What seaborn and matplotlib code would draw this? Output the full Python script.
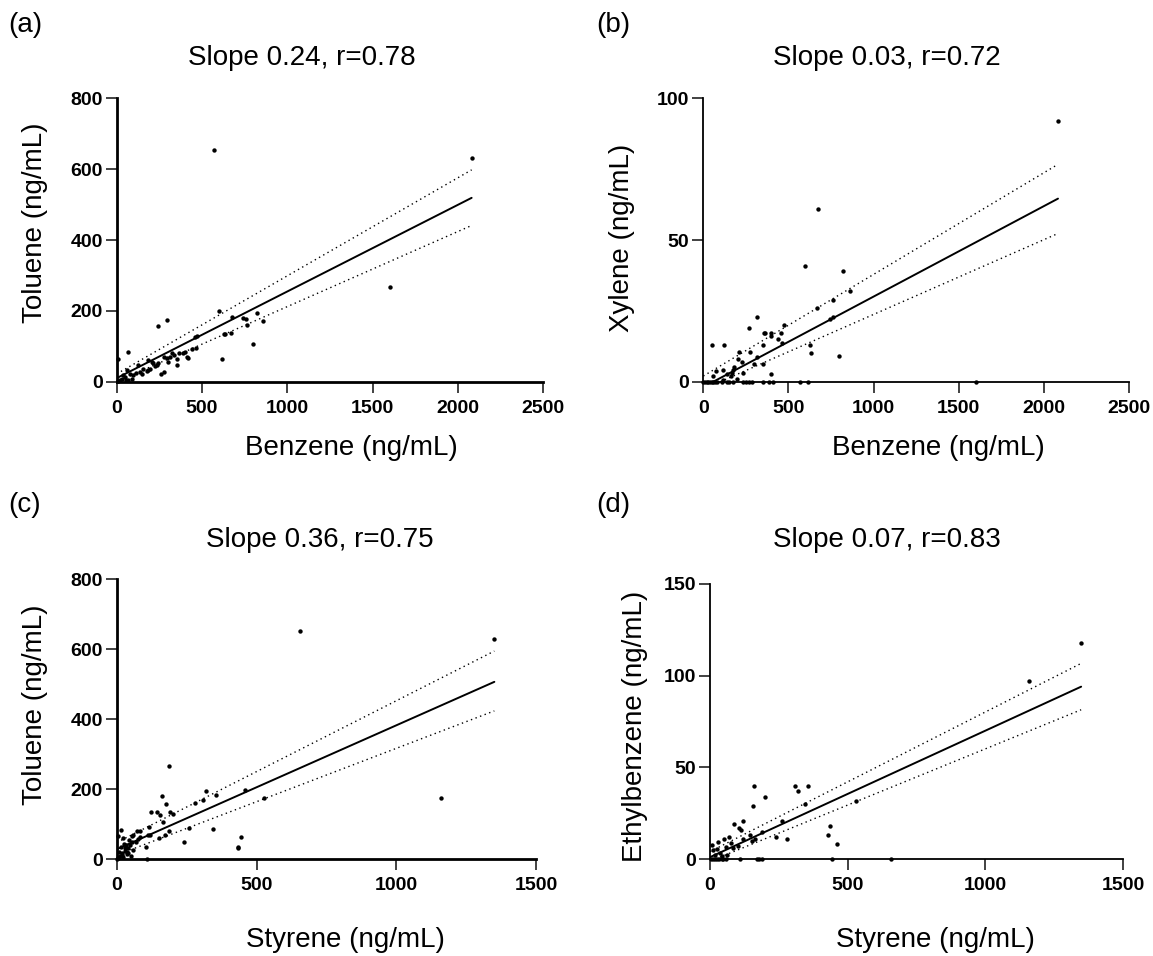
import numpy as np
import pandas as pd
import matplotlib.pyplot as plt
import seaborn as sns

# (a) benzene vs toluene
a_x = [572, 2080, 1600, 600, 293, 244, 674, 742, 757, 822, 765, 859, 799, 629, 635,
       670, 619, 469, 459, 465, 439, 410, 400, 387, 367, 352, 354, 322, 312, 303,
       277, 277, 260, 234, 215, 205, 182, 186, 156, 127, 137, 113, 98, 66, 10,
       59, 78, 49, 29, 20, 68, 88, 39, 55, 10, 146, 176, 195, 225, 244, 293, 336, 416]
a_y = [653, 631, 268, 200, 174, 158, 184, 181, 176, 195, 160, 171, 106, 134, 134,
       137, 64, 129, 127, 94, 93, 69, 85, 82, 80, 63, 47, 80, 70, 56,
       70, 28, 23, 47, 52, 56, 61, 33, 35, 47, 28, 25, 19, 83, 64,
       33, 23, 14, 9, 5, 5, 8, 19, 5, 2, 23, 31, 35, 44, 52, 66, 75, 66]

# (b) benzene vs xylene
b_x = [2083, 671, 596, 818, 861, 763, 669, 759, 745, 314, 269, 471, 357, 365, 398,
       398, 459, 437, 461, 349, 624, 631, 798, 49, 120, 212, 277, 206, 229, 314,
       300, 349, 398, 235, 182, 176, 167, 137, 161, 114, 73, 59, 200, 118,
       0, 10, 20, 29, 39, 49, 59, 69, 78, 112, 141, 153, 173, 235, 249, 269,
       286, 349, 384, 412, 569, 616, 1600]
b_y = [92.1, 61, 41, 39, 32, 29, 26.1, 22.9, 22.1, 22.9, 19.1, 20, 17.1, 17.1, 17.1,
       16.1, 17.1, 14.9, 13.5, 12.9, 12.9, 10, 9.2, 12.9, 12.9, 10.6, 10.6, 7.9, 7.1, 8.8,
       6.1, 6.1, 2.8, 2.9, 5.3, 4.1, 3.2, 2.7, 2.0, 4.1, 3.8, 2.1, 0.9, 0.6,
       0, 0, 0, 0, 0, 0, 0, 0, 0, 0, 0, 0, 0, 0, 0, 0,
       0, 0, 0, 0, 0, 0, 0]

# (c) styrene vs toluene
c_x = [657, 1350, 1160, 188, 460, 528, 355, 321, 309, 279, 161, 178, 122, 144, 155,
       191, 201, 166, 346, 260, 242, 432, 435, 444, 117, 119, 152, 171, 186, 103,
       109, 16, 6, 24, 54, 60, 72, 84, 75, 84, 69, 56, 48, 33, 30,
       42, 36, 18, 12, 50, 6, 24, 113, 60, 45, 10, 20, 28, 38, 15, 2, 8, 26, 40]
c_y = [651, 630, 174, 268, 199, 175, 185, 195, 170, 161, 180, 159, 134, 135, 126,
       136, 129, 106, 88, 89, 49, 34, 32, 63, 91, 69, 60, 70, 80, 35,
       0, 84, 67, 60, 67, 69, 82, 82, 57, 65, 50, 50, 41, 41, 31,
       31, 22, 17, 10, 10, 3, 6, 70, 27, 55, 20, 12, 25, 15, 35, 2, 8, 45, 18]

# (d) styrene vs ethylbenzene
d_x = [1348, 1159, 161, 309, 355, 321, 201, 155, 345, 529, 121, 86, 260, 107, 113,
       188, 145, 240, 279, 162, 151, 119, 436, 430, 461, 69, 52, 75, 58, 103,
       82, 30, 6, 12, 27, 36, 42, 61, 18,
       2, 10, 18, 24, 34, 42, 48, 58, 109, 170, 178, 188, 444, 658]
d_y = [118, 96.9, 40, 40, 40, 37.1, 34, 28.9, 30, 31.8, 20.9, 18.9, 20.9, 17.1, 15.8,
       14.9, 12.9, 12.2, 10.9, 10.9, 10, 10.7, 18, 12.9, 8, 12.2, 10.9, 8.9, 6.7, 7.1,
       5.8, 9.5, 7.6, 4.9, 5.3, 3.1, 1.6, 2.2, 2.2,
       0, 0, 0, 0, 0, 0, 0, 0, 0, 0, 0, 0, 0, 0]

# fitted line and 95% band ends
a_fit = ([0, 2080], [10, 519]); a_up = ([0, 2080], [22, 598]); a_lo = ([0, 2080], [0, 441])
b_fit = ([59, 2083], [0, 64.6]); b_up = ([0, 2083], [2, 76.7]); b_lo = ([100, 2083], [0, 52.3])
c_fit = ([0, 1350], [28.6, 507]); c_up = ([0, 1350], [48, 595]); c_lo = ([0, 1350], [12, 424])
d_fit = ([0, 1348], [1, 94]); d_up = ([0, 1348], [4, 106.7]); d_lo = ([20, 1348], [0, 81.4])

titles = ['Slope 0.24, r=0.78', 'Slope 0.03, r=0.72', 'Slope 0.36, r=0.75', 'Slope 0.07, r=0.83']
xlabels = ['Benzene (ng/mL)', 'Benzene (ng/mL)', 'Styrene (ng/mL)', 'Styrene (ng/mL)']
ylabels = ['Toluene (ng/mL)', 'Xylene (ng/mL)', 'Toluene (ng/mL)', 'Ethylbenzene (ng/mL)']
tags = ['(a)', '(b)', '(c)', '(d)']

sns.set_style('ticks')
plt.rcParams['font.family'] = ['Liberation Sans', 'DejaVu Sans']
plt.rcParams['text.color'] = 'black'
plt.rcParams['xtick.labelcolor'] = 'black'
plt.rcParams['ytick.labelcolor'] = 'black'

W, H = 1153, 956
fig = plt.figure(figsize=(W / 100, H / 100), dpi=100)


def px_axes(l, t, r, b):
    return fig.add_axes([l / W, 1 - b / H, (r - l) / W, (b - t) / H])


def px_text(x, y, s, **kw):
    fig.text(x / W, 1 - y / H, s, fontsize=20, color='black', **kw)


panels = [
    dict(rect=(116.7, 98.3, 543.3, 381.7), x=a_x, y=a_y, fit=a_fit, up=a_up, lo=a_lo,
         xt=[0, 500, 1000, 1500, 2000, 2500], yt=[0, 200, 400, 600, 800], lw=2.0,
         title=(302, 58), tag=(8, 25), xl=(351, 448), yl=(35, 223)),
    dict(rect=(703.3, 98.3, 1129, 381.7), x=b_x, y=b_y, fit=b_fit, up=b_up, lo=b_lo,
         xt=[0, 500, 1000, 1500, 2000, 2500], yt=[0, 50, 100], lw=1.3,
         title=(887, 58), tag=(596, 25), xl=(938, 448), yl=(622, 238)),
    dict(rect=(116.7, 579.3, 536.3, 859.3), x=c_x, y=c_y, fit=c_fit, up=c_up, lo=c_lo,
         xt=[0, 500, 1000, 1500], yt=[0, 200, 400, 600, 800], lw=2.0,
         title=(320, 540), tag=(8, 505), xl=(345, 940), yl=(35, 705)),
    dict(rect=(710, 584, 1123, 859), x=d_x, y=d_y, fit=d_fit, up=d_up, lo=d_lo,
         xt=[0, 500, 1000, 1500], yt=[0, 50, 100, 150], lw=1.3,
         title=(887, 540), tag=(596, 505), xl=(935, 940), yl=(635, 726)),
]

for i, p in enumerate(panels):
    ax = px_axes(*p['rect'])
    df = pd.DataFrame({'x': p['x'], 'y': p['y']})
    sns.scatterplot(data=df, x='x', y='y', ax=ax, color='black', s=10,
                    linewidth=0, clip_on=False, zorder=3)
    ax.plot(*p['fit'], color='black', lw=1.4)
    ax.plot(*p['up'], color='black', lw=1.0, ls=(0, (1, 2.5)))
    ax.plot(*p['lo'], color='black', lw=1.0, ls=(0, (1, 2.5)))
    ax.set_xlim(p['xt'][0], p['xt'][-1])
    ax.set_ylim(p['yt'][0], p['yt'][-1])
    ax.set_xticks(p['xt'])
    ax.set_yticks(p['yt'])
    ax.set_xlabel('')
    ax.set_ylabel('')
    sns.despine(ax=ax)
    for s in ['left', 'bottom']:
        ax.spines[s].set_linewidth(p['lw'])
        ax.spines[s].set_color('black')
    ax.tick_params(axis='both', length=8, width=1.3, color='#333333',
                   labelsize=14, labelcolor='black')
    ax.tick_params(axis='x', pad=5)
    ax.tick_params(axis='y', pad=2)
    for lab in ax.get_xticklabels() + ax.get_yticklabels():
        lab.set_fontweight('bold')
    px_text(*p['title'], titles[i], ha='center', va='center')
    px_text(*p['tag'], tags[i], ha='left', va='center')
    px_text(*p['xl'], xlabels[i], ha='center', va='center')
    px_text(*p['yl'], ylabels[i], ha='center', va='center', rotation=90)

fig.savefig('out.png', dpi=100)
